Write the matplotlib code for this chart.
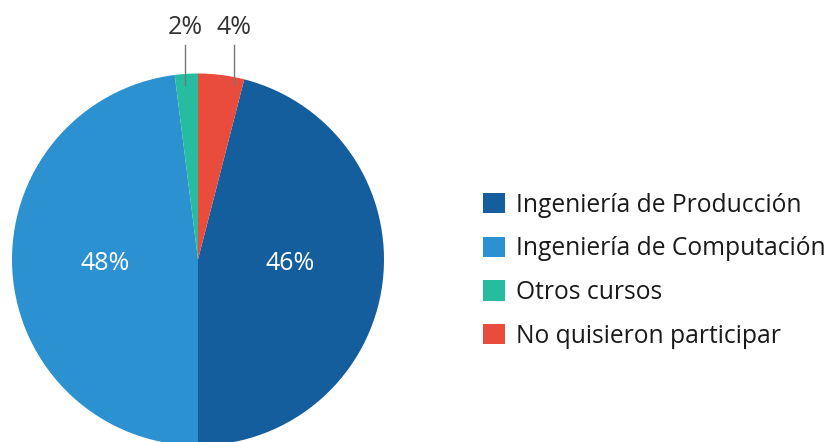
import numpy as np
import matplotlib.pyplot as plt
from matplotlib.patches import Patch

plt.rcParams['font.family'] = ['Open Sans', 'DejaVu Sans']

# data
categorias = ['Ingeniería de Producción', 'Ingeniería de Computación',
              'Otros cursos', 'No quisieron participar']
porcentajes = [46, 48, 2, 4]
colores = ['#155E9D', '#2B91D1', '#26BCA0', '#E94C3C']

W, H = 828, 442
fig = plt.figure(figsize=(W / 100, H / 100), dpi=100)
ax = fig.add_axes([0, 0, 1, 1])

# the pie is centred in pixel coords, red slice starts at the top
cx, cy, r = 198, H - 259.5, 186
start = 90 - porcentajes[3] / 100 * 360
wedges, _ = ax.pie(porcentajes, colors=colores, startangle=start,
                   counterclock=False, radius=r, center=(cx, cy),
                   frame=True)

# inner labels (big slices), kept at the centre height
for w, p in zip(wedges[:2], porcentajes[:2]):
    ang = np.deg2rad((w.theta1 + w.theta2) / 2)
    ax.text(cx + 0.5 * r * np.cos(ang), cy - 4,
            f'{p}%', color='white', fontsize=18, ha='center', va='center')

# outer labels (small slices) with leader lines
for w, p, dx in [(wedges[2], porcentajes[2], -13), (wedges[3], porcentajes[3], 36)]:
    x = cx + dx
    ax.plot([x, x], [H - 45, H - 85], color='#777777', lw=1)
    ax.text(x, H - 28, f'{p}%', color='#333333', fontsize=18,
            ha='center', va='center')

handles = [Patch(facecolor=c, edgecolor='none') for c in colores]
ax.legend(handles, categorias, loc='upper left',
          bbox_to_anchor=(483, H - 192.5), bbox_transform=ax.transData,
          frameon=False, fontsize=17.7, handlelength=0.9, handleheight=0.9,
          handletextpad=0.45, labelspacing=0.76, borderpad=0, borderaxespad=0,
          labelcolor='#1a1a1a')

ax.set_xlim(0, W)
ax.set_ylim(0, H)
ax.set_aspect('equal')
ax.axis('off')

plt.savefig('out.png', dpi=100)
